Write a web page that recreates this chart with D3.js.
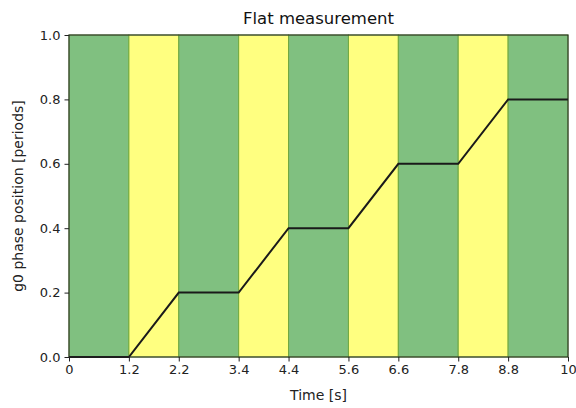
<!DOCTYPE html>
<html>
<head>
<meta charset="utf-8">
<script src="https://cdn.jsdelivr.net/npm/d3@7"></script>
<style>
  body { margin: 0; background: #fff; }
  svg { font-family: "DejaVu Sans", sans-serif; }
</style>
</head>
<body>
<svg id="chart" width="576" height="408"></svg>
<script>
// Phase position over time, with alternating measurement/move intervals
const bandStarts = [0, 1.2, 2.2, 3.4, 4.4, 5.6, 6.6, 7.8, 8.8];
const bandEnds   = [1.2, 2.2, 3.4, 4.4, 5.6, 6.6, 7.8, 8.8, 10];
const bandKinds  = ["flat", "move", "flat", "move", "flat", "move", "flat", "move", "flat"];
const timeValues  = [0, 1.2, 2.2, 3.4, 4.4, 5.6, 6.6, 7.8, 8.8, 10];
const phaseValues = [0, 0, 0.2, 0.2, 0.4, 0.4, 0.6, 0.6, 0.8, 0.8];
const xTicks = [0, 1.2, 2.2, 3.4, 4.4, 5.6, 6.6, 7.8, 8.8, 10];
const yTicks = [0, 0.2, 0.4, 0.6, 0.8, 1.0];

const margin = { left: 69, right: 8, top: 35, bottom: 51 };
const W = 576, H = 408;
const svg = d3.select("#chart");

const x = d3.scaleLinear().domain([0, 10]).range([margin.left, W - margin.right]);
const y = d3.scaleLinear().domain([0, 1]).range([H - margin.bottom, margin.top]);

const fills = { flat: "#80c080", move: "#ffff80" };

const bands = bandStarts.map((s, i) => ({ s, e: bandEnds[i], k: bandKinds[i] }));
svg.append("g").selectAll("rect").data(bands).join("rect")
  .attr("x", d => x(d.s))
  .attr("y", y(1))
  .attr("width", d => x(d.e) - x(d.s))
  .attr("height", y(0) - y(1))
  .attr("fill", d => fills[d.k])
  .attr("stroke", "#70a840")
  .attr("stroke-width", 1);

const line = d3.line().x(d => x(d[0])).y(d => y(d[1]));
svg.append("path")
  .datum(timeValues.map((t, i) => [t, phaseValues[i]]))
  .attr("d", line)
  .attr("fill", "none")
  .attr("stroke", "#1a1a1a")
  .attr("stroke-width", 2);

// frame
svg.append("rect")
  .attr("x", x(0)).attr("y", y(1))
  .attr("width", x(10) - x(0)).attr("height", y(0) - y(1))
  .attr("fill", "none").attr("stroke", "#222").attr("stroke-width", 1);

const xAxis = svg.append("g")
  .attr("transform", `translate(0,${y(0)})`)
  .call(d3.axisBottom(x).tickValues(xTicks).tickSize(4.5).tickPadding(3)
    .tickFormat(d => d3.format("~g")(d)));
const yAxis = svg.append("g")
  .attr("transform", `translate(${x(0)},0)`)
  .call(d3.axisLeft(y).tickValues(yTicks).tickSize(4.5).tickPadding(4)
    .tickFormat(d3.format(".1f")));
[xAxis, yAxis].forEach(a => {
  a.select(".domain").remove();
  a.selectAll("text").attr("font-size", 13).attr("fill", "#222")
    .attr("font-family", "DejaVu Sans, sans-serif");
  a.selectAll("line").attr("stroke", "#222");
});

svg.append("text")
  .attr("x", (x(0) + x(10)) / 2).attr("y", 24)
  .attr("text-anchor", "middle").attr("font-size", 16.5).attr("fill", "#111")
  .text("Flat measurement");

svg.append("text")
  .attr("x", (x(0) + x(10)) / 2).attr("y", 400)
  .attr("text-anchor", "middle").attr("font-size", 14).attr("fill", "#222")
  .text("Time [s]");

svg.append("text")
  .attr("transform", `translate(23,${(y(0) + y(1)) / 2}) rotate(-90)`)
  .attr("text-anchor", "middle").attr("font-size", 14).attr("fill", "#222")
  .text("g0 phase position [periods]");
</script>
</body>
</html>
